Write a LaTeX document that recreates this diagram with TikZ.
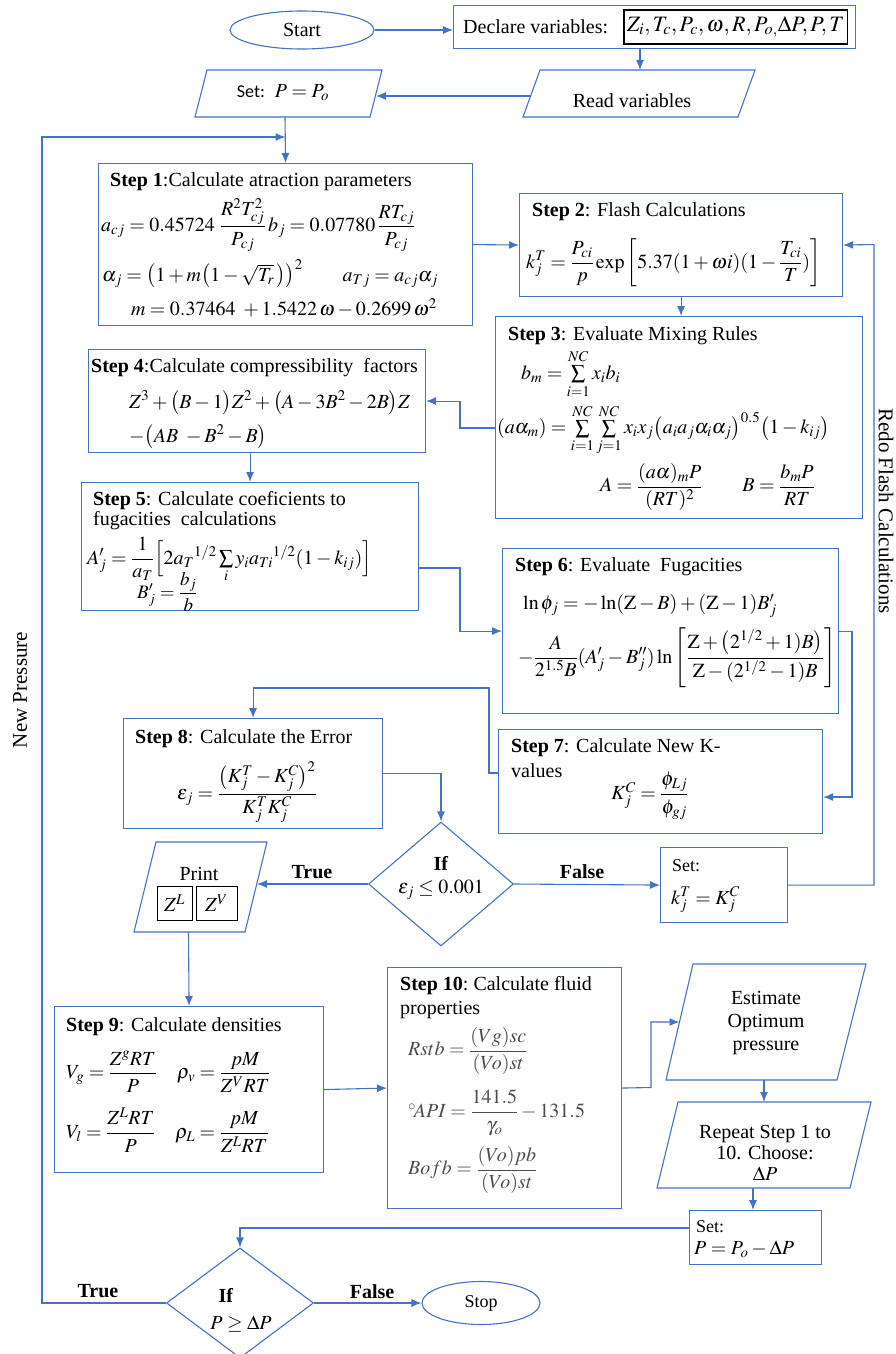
\documentclass[tikz,border=0pt]{standalone}
\usepackage{amsmath}
\usepackage{mathptmx}
\usepackage{fontspec}
\setmainfont{Liberation Serif}
\newfontfamily\calib{Carlito}
\usetikzlibrary{arrows.meta,shapes.geometric}
\definecolor{fc}{RGB}{68,114,196}
\begin{document}
\begin{tikzpicture}[x=1pt,y=-1pt,
  every node/.style={font=\fontsize{20}{23}\selectfont, text=black},
  ln/.style={draw=fc, line width=1.1pt},
  arr/.style={ln, -{Latex[length=10pt,width=8pt]}},
  box/.style={ln, rectangle, inner sep=0pt, anchor=north west},
  lbl/.style={anchor=west, inner sep=0pt},
  smallf/.style={font=\fontsize{18}{21}\selectfont},
  sidef/.style={font=\fontsize{21}{24}\selectfont},
  zbox/.style={draw=black, line width=1pt, inner sep=0pt, minimum height=34pt},
  gry/.style={text=black!70}
]
\useasboundingbox (0,0) rectangle (896,1354);

% ---------- top row ----------
\node[ln, ellipse, minimum width=144pt, minimum height=38pt, inner sep=0pt] (start) at (302,30) {Start};
\node[box, minimum width=402pt, minimum height=43pt] (decl) at (453,5) {};
\node[lbl] (declt) at (463,27) {Declare variables:};
\node[draw=black, line width=1.2pt, inner sep=3pt, minimum height=34pt, anchor=east, font=\fontsize{22}{25}\selectfont] (declv) at (848,27) {$Z_i,T_c,P_c,\omega,R,P_{o,}\Delta P,P,T$};
\draw[arr] (start.east) -- (decl.west |- start.east);

\coordinate (rdA) at (540,70); \coordinate (rdB) at (755,70);
\coordinate (rdC) at (738,117); \coordinate (rdD) at (523,117);
\draw[ln] (rdA) -- (rdB) -- (rdC) -- (rdD) -- cycle;
\node (rdt) at (632,101) {Read variables};
\coordinate (rdT) at (640,70);
\draw[arr] (decl.south -| rdT) -- (rdT);

\coordinate (stA) at (207,70); \coordinate (stB) at (382,70);
\coordinate (stC) at (370,117); \coordinate (stD) at (195,117);
\draw[ln] (stA) -- (stB) -- (stC) -- (stD) -- cycle;
\node (stt) at (283,93) {{\calib\fontsize{18}{21}\selectfont Set:}\ \ $P=P_o$};
\coordinate (rdL) at (531,96); \coordinate (stR) at (376,96);
\draw[arr] (rdL) -- (stR);

% ---------- Step 1 ----------
\node[box, minimum width=374pt, minimum height=162pt] (s1) at (98,163) {};
\node[lbl] (t1) at (110,182) {\textbf{Step 1}:Calculate atraction parameters};
\node[lbl] (f1a) at (101,225) {$a_{cj}=0.45724\ \dfrac{R^2T_{cj}^2}{P_{cj}}\,b_j=0.07780\,\dfrac{RT_{cj}}{P_{cj}}$};
\node[lbl] (f1b) at (102,274) {$\alpha_j=\bigl(1+m\bigl(1-\sqrt{T_r}\,\bigr)\bigr)^2\qquad a_{Tj}=a_{cj}\alpha_j$};
\node (f1c) at (284,308) {$m=0.37464\ +1.5422\,\omega-0.2699\,\omega^2$};
\coordinate (stBot) at (285,117);
\draw[arr] (stBot) -- (s1.north);

% ---------- Step 2 ----------
\node[box, minimum width=323pt, minimum height=103pt] (s2) at (519,193) {};
\node[lbl] (t2) at (532,212) {\textbf{Step 2}: Flash Calculations};
\node[lbl] (f2) at (526,263) {$k_j^T=\dfrac{P_{ci}}{p}\exp\left[5.37(1+\omega i)(1-\dfrac{T_{ci}}{T})\right]$};
\draw[arr] (s1.east) -- (s2.west);

% ---------- Step 3 ----------
\node[box, minimum width=367pt, minimum height=202pt] (s3) at (495,316) {};
\node[lbl] (t3) at (508,336) {\textbf{Step 3}: Evaluate Mixing\ Rules};
\node[lbl] (f3a) at (521,374) {$b_m=\sum\limits_{i=1}^{NC}x_ib_i$};
\node[lbl] (f3b) at (497,430) {$(a\alpha_m)=\sum\limits_{i=1}^{NC}\sum\limits_{j=1}^{NC}x_ix_j\bigl(a_ia_j\alpha_i\alpha_j\bigr)^{0.5}\bigl(1-k_{ij}\bigr)$};
\node[lbl] (f3c) at (600,487) {$A=\dfrac{(a\alpha)_mP}{(RT)^2}\qquad B=\dfrac{b_mP}{RT}$};
\draw[arr] (s2.south -| s3.north) ++(2,0) coordinate (s2s) -- (s2s |- s3.north);

% ---------- Step 4 ----------
\node[box, minimum width=337pt, minimum height=103pt] (s4) at (88,349) {};
\node[lbl] (t4) at (91,368) {\textbf{Step 4}:Calculate compressibility\ \ factors};
\node[lbl] (f4a) at (129,403) {$Z^3+\bigl(B-1\bigr)Z^2+\bigl(A-3B^2-2B\bigr)Z$};
\node[lbl] (f4b) at (129,437) {$-\bigl(AB\ -B^2-B\bigr)$};
\coordinate (j34) at (460,428);
\draw[arr] (s3.west |- j34) -- (j34) |- (s4.east);

% ---------- Step 5 ----------
\node[box, minimum width=337pt, minimum height=128pt] (s5) at (81,482) {};
\node[lbl] (t5a) at (93,501) {\textbf{Step 5}: Calculate coeficients to};
\node[lbl] (t5b) at (93,521) {fugacities\ \ calculations};
\node[lbl] (f5a) at (87,560) {$A'_j=\dfrac{1}{a_T}\Bigl[2a_T{}^{1/2}\sum\limits_i y_ia_{Ti}{}^{1/2}(1-k_{ij})\Bigr]$};
\node[lbl, font=\fontsize{19}{22}\selectfont] (f5b) at (137,592) {$B'_j=\dfrac{b_j}{b}$};
\draw[arr] (s5.north |- s4.south) -- (s5.north);

% ---------- Step 6 ----------
\node[box, minimum width=336pt, minimum height=165pt] (s6) at (502,548) {};
\node[lbl] (t6) at (515,567) {\textbf{Step 6}: Evaluate\ \ Fugacities};
\node[lbl] (f6a) at (523,606) {$\ln\phi_j=-\ln(\mathrm{Z}-B)+(\mathrm{Z}-1)B'_j$};
\node[lbl] (f6b) at (518,658) {$-\dfrac{A}{2^{1.5}B}(A'_j-B''_j)\ln\left[\dfrac{\mathrm{Z}+\bigl(2^{1/2}+1)B\bigr)}{\mathrm{Z}-(2^{1/2}-1)B}\right]$};
\coordinate (j56) at (460,568);
\draw[arr] (s5.east |- j56) -- (j56) |- (s6.west);

% ---------- Step 7 ----------
\node[box, minimum width=324pt, minimum height=104pt] (s7) at (498,729) {};
\node[lbl] (t7a) at (511,748) {\textbf{Step 7}: Calculate New K-};
\node[lbl] (t7b) at (511,771) {values};
\node (f7) at (650,796) {$K_j^C=\dfrac{\phi_{Lj}}{\phi_{gj}}$};
\coordinate (j67) at (852,797);
\draw[arr] (s6.east) -| (j67) -- (s7.east |- j67);

% ---------- Step 8 ----------
\node[box, minimum width=259pt, minimum height=110pt] (s8) at (123,718) {};
\node[lbl] (t8) at (135,739) {\textbf{Step 8}: Calculate the Error};
\node (f8) at (247,792) {$\varepsilon_j=\dfrac{\bigl(K_j^T-K_j^C\bigr)^2}{K_j^TK_j^C}$};
\coordinate (j78a) at (489,773); \coordinate (j78b) at (489,688);
\draw[arr] (s7.west |- j78a) -- (j78a) -- (j78b) -| (s8.north);

% ---------- Decision 1 ----------
\node[ln, diamond, minimum width=145pt, minimum height=124pt, inner sep=0pt] (d1) at (441,884) {};
\node (d1a) at (441,863) {\textbf{If}};
\node (d1b) at (441,890) {$\varepsilon_j\le 0.001$};
\draw[arr] (s8.east) -| (d1.north);

% Print
\coordinate (prA) at (156,842); \coordinate (prB) at (267,842);
\coordinate (prC) at (245,932); \coordinate (prD) at (134,932);
\draw[ln] (prA) -- (prB) -- (prC) -- (prD) -- cycle;
\node (prt) at (199,874) {Print};
\node[zbox, minimum width=35pt] (zl) at (174.5,903) {$Z^L$};
\node[zbox, minimum width=41pt] (zv) at (216.5,903) {$Z^V$};
\coordinate (prR) at (257,884);
\draw[arr] (d1.west) -- (prR);
\node (tr1) at (312,872) {\textbf{True}};

% Set k
\node[box, minimum width=127pt, minimum height=75pt] (sk) at (660,847) {};
\node[lbl, smallf] (sk1) at (672,866) {Set:};
\node[lbl] (sk2) at (671,900) {$k_j^T=K_j^C$};
\draw[arr] (d1.east) -- (sk.west);
\node (fa1) at (582,872) {\textbf{False}};
\coordinate (jr) at (874,244.5);
\draw[arr] (sk.east) -| (jr) -- (s2.east);
\node[rotate=-90, sidef] (rf) at (886,511) {Redo Flash Calculations};

% ---------- Step 9 ----------
\node[box, minimum width=269pt, minimum height=166pt] (s9) at (54,1006) {};
\node[lbl] (t9) at (66,1027) {\textbf{Step 9}: Calculate densities};
\node[lbl] (f9a) at (66,1072) {$V_g=\dfrac{Z^gRT}{P}\quad\rho_v=\dfrac{pM}{Z^VRT}$};
\node[lbl] (f9b) at (66,1130) {$V_l=\dfrac{Z^LRT}{P}\quad\rho_L=\dfrac{pM}{Z^LRT}$};
\coordinate (prBot) at (188.5,932);
\draw[arr] (prBot) -- (s9.north);

% ---------- Step 10 ----------
\node[box, minimum width=234pt, minimum height=241pt] (s10) at (387,967) {};
\node[lbl] (t10a) at (400,986) {\textbf{Step 10}:\ Calculate fluid};
\node[lbl] (t10b) at (400,1010) {properties};
\node[lbl, gry] (f10a) at (408,1051) {$Rstb=\dfrac{(Vg)sc}{(Vo)st}$};
\node[lbl, gry] (f10b) at (408,1113) {$^\circ\!API=\dfrac{141.5}{\gamma_o}-131.5$};
\node[lbl, gry] (f10c) at (408,1170) {$Bofb=\dfrac{(Vo)pb}{(Vo)st}$};
\draw[arr] (s9.east) -- (s10.west);

% Estimate
\coordinate (eA) at (693,964); \coordinate (eB) at (866,964);
\coordinate (eC) at (837,1080); \coordinate (eD) at (666,1080);
\draw[ln] (eA) -- (eB) -- (eC) -- (eD) -- cycle;
\node[align=center, font=\fontsize{20}{23}\selectfont] (estt) at (766,1023) {Estimate\\Optimum\\pressure};
\coordinate (j10) at (651,1087.5); \coordinate (estL) at (679.5,1022);
\draw[arr] (s10.east) -- (j10) |- (estL);

% Repeat
\coordinate (rA) at (678,1102); \coordinate (rB) at (871,1102);
\coordinate (rC) at (850,1188); \coordinate (rD) at (657,1188);
\draw[ln] (rA) -- (rB) -- (rC) -- (rD) -- cycle;
\node[align=center, font=\fontsize{20}{21}\selectfont] (rept) at (765,1153) {Repeat Step 1 to\\10. Choose:\\$\Delta P$};
\coordinate (estB) at (764,1080); \coordinate (repT) at (764,1102);
\draw[arr] (estB) -- (repT);

% Set 2
\node[box, minimum width=132pt, minimum height=54pt] (set2) at (689,1210) {};
\node[lbl, smallf] (s2a) at (696,1227) {Set:};
\node[lbl] (s2b) at (694,1249) {$P=P_o-\Delta P$};
\coordinate (repB) at (753,1188);
\draw[arr] (repB) -- (repB |- set2.north);

% ---------- Decision 2 ----------
\node[ln, diamond, minimum width=147pt, minimum height=110pt, inner sep=0pt] (d2) at (240,1303) {};
\node (d2a) at (226,1295) {\textbf{If}};
\node (d2b) at (241,1324) {$P\ge\Delta P$};
\coordinate (j2) at (689,1228);
\draw[arr] (j2) -| (d2.north);

\node[ln, ellipse, minimum width=118pt, minimum height=43pt, inner sep=0pt, smallf] (stop) at (481,1303) {Stop};
\draw[arr] (d2.east) -- (stop.west);
\node (fa2) at (372,1292) {\textbf{False}};

\coordinate (np1) at (42,137);
\draw[arr] (d2.west) -| (np1) -- (s1.north |- np1);
\node (tr2) at (98,1291) {\textbf{True}};
\node[rotate=90, sidef] (np) at (20,690) {New Pressure};
\end{tikzpicture}
\end{document}
